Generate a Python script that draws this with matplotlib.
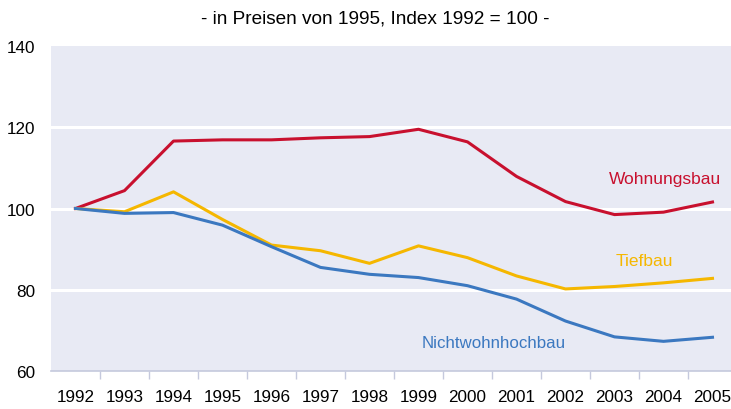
import matplotlib
matplotlib.use("Agg")
import matplotlib.pyplot as plt

# index values, 1992 = 100
years = [1992, 1993, 1994, 1995, 1996, 1997, 1998, 1999, 2000, 2001, 2002, 2003, 2004, 2005]
wohnungsbau = [100, 104.4, 116.6, 116.9, 116.9, 117.4, 117.7, 119.5, 116.4, 107.9, 101.7, 98.5, 99.1, 101.6]
tiefbau = [100, 99.2, 104.1, 97.3, 91.0, 89.6, 86.5, 90.8, 87.9, 83.4, 80.2, 80.8, 81.7, 82.8]
nichtwohnhochbau = [100, 98.8, 99.0, 95.9, 90.6, 85.5, 83.8, 83.0, 81.0, 77.7, 72.3, 68.4, 67.3, 68.3]

RED = "#C8102E"
YELLOW = "#F5B700"
BLUE = "#3B78C0"
BG = "#E8EAF4"

plt.rcParams['font.family'] = ['Liberation Sans', 'DejaVu Sans']

fig = plt.figure(figsize=(7.31, 4.10), dpi=100)
# plot area runs slightly past the right edge of the image
ax = fig.add_axes([51 / 731, 1 - 372 / 410, 686 / 731, (372 - 47) / 410])
ax.set_facecolor(BG)

x = list(range(len(years)))
ax.plot(x, wohnungsbau, color=RED, lw=2.2, zorder=3)
ax.plot(x, tiefbau, color=YELLOW, lw=2.2, zorder=3)
ax.plot(x, nichtwohnhochbau, color=BLUE, lw=2.2, zorder=3)

ax.set_xlim(-0.5, len(years) - 0.5)
ax.set_ylim(60, 140)
ax.set_yticks([60, 80, 100, 120, 140])
for v in [80, 100, 120]:
    ax.axhline(v, color="white", lw=2.2, zorder=1)

ax.set_xticks(x)
ax.set_xticklabels([str(y) for y in years], fontsize=12.3)
ax.set_xticks([i - 0.5 for i in range(1, len(years))], minor=True)
ax.tick_params(axis="x", which="major", length=0, pad=13)
ax.tick_params(axis="x", which="minor", length=6, color="#C5C9DD", width=1)
ax.tick_params(axis="y", length=0, pad=11, labelsize=12.3)

for side in ["top", "right", "left"]:
    ax.spines[side].set_visible(False)
ax.spines["bottom"].set_color("#C5C9DD")
ax.spines["bottom"].set_linewidth(1.2)

ax.text(12.03, 107.5, "Wohnungsbau", color=RED, fontsize=12.5, ha="center", va="center")
ax.text(11.6, 87.3, "Tiefbau", color=YELLOW, fontsize=12.5, ha="center", va="center")
ax.text(8.53, 66.9, "Nichtwohnhochbau", color=BLUE, fontsize=12.2, ha="center", va="center")

fig.text(375 / 731, 1 - 19 / 410, "- in Preisen von 1995, Index 1992 = 100 -",
         fontsize=13.7, ha="center", va="center")

fig.savefig("out.png", dpi=100)
